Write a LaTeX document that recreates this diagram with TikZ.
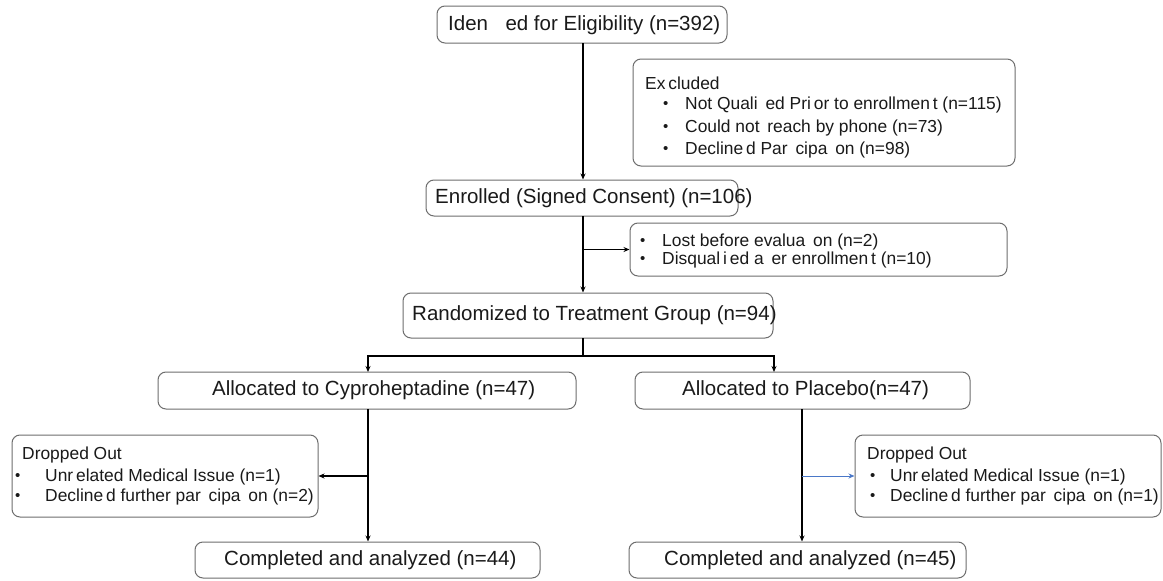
\documentclass[tikz,border=0pt]{standalone}
\usepackage{fontspec}
\setmainfont{Liberation Sans}
\usetikzlibrary{arrows.meta,fit}
\definecolor{boxgray}{HTML}{6E6E6E}
\definecolor{txtc}{HTML}{1A1A1A}
\definecolor{bluearr}{HTML}{4A78C8}
\newcommand{\gapti}{\hspace{0.45em}}
\begin{document}
\begin{tikzpicture}[x=1pt,y=-1pt,
  boxnode/.style={draw=boxgray, line width=1pt, rounded corners=8pt, inner sep=0pt},
  big/.style={font=\fontsize{20.5}{24}\selectfont, text=txtc, inner sep=0pt, anchor=west},
  small/.style={font=\fontsize{17.4}{21}\selectfont, text=txtc, inner sep=0pt, anchor=west},
  bul/.style={font=\fontsize{15}{18}\selectfont, text=txtc, inner sep=0pt, anchor=west},
  arr/.style={draw=black, line width=1.3pt, -{Stealth[length=6pt,width=5pt]}},
  plain/.style={draw=black, line width=1.3pt},
  barr/.style={draw=bluearr, line width=1pt, -{Stealth[length=6pt,width=5pt]}}]
\useasboundingbox[fill=white] (0,0) rectangle (1163,581);

% boxes
\node[boxnode, fit={(437,6) (727,43)}] (ident) {};
\node[boxnode, fit={(633,59) (1015,166)}] (excl) {};
\node[boxnode, fit={(426,180) (738,216)}] (enrol) {};
\node[boxnode, fit={(630,223) (1007,276)}] (lost) {};
\node[boxnode, fit={(403,293) (773,338)}] (rand) {};
\node[boxnode, fit={(158,372) (576,409)}] (cypro) {};
\node[boxnode, fit={(635,372) (970,409)}] (plac) {};
\node[boxnode, fit={(12,435) (318,517)}] (dropA) {};
\node[boxnode, fit={(855,435) (1161,517)}] (dropB) {};
\node[boxnode, fit={(195,542) (540,578)}] (compA) {};
\node[boxnode, fit={(629,542) (966,578)}] (compB) {};

% texts
\node[big] (tident) at (448,25) {Iden\hspace{0.85em}ed for Eligibility (n=392)};
\node[small] (texc) at (645,83) {Ex\,cluded};
\node[bul] (be1) at (663,105) {•};
\node[small] (te1) at (685,105) {Not Quali\gapti ed Pri\,or to enrollmen\,t (n=115)};
\node[bul] (be2) at (663,128) {•};
\node[small] (te2) at (685,128) {Could not\, reach by phone (n=73)};
\node[bul] (be3) at (663,150) {•};
\node[small] (te3) at (685,150) {Decline\,d Par\gapti cipa\gapti on (n=98)};
\node[big] (tenrol) at (435,198) {Enrolled (Signed Consent) (n=106)};
\node[bul] (bl1) at (640,242) {•};
\node[small] (tl1) at (662,242) {Lost before evalua\gapti on (n=2)};
\node[bul] (bl2) at (640,260) {•};
\node[small] (tl2) at (662,260) {Disqual\,i\,ed a\gapti er enrollmen\,t (n=10)};
\node[big] (trand) at (412,315) {Randomized to Treatment Group (n=94)};
\node[big] (tcypro) at (212,390) {Allocated to Cyproheptadine (n=47)};
\node[big] (tplac) at (682,390) {Allocated to Placebo(n=47)};
\node[small] (tdA) at (22,455) {Dropped Out};
\node[bul] (bdA1) at (15,477) {•};
\node[small] (dA1) at (45,477) {Unr\,elated Medical Issue (n=1)};
\node[bul] (bdA2) at (15,497) {•};
\node[small] (dA2) at (45,497) {Decline\,d further par\gapti cipa\gapti on (n=2)};
\node[small] (tdB) at (867,455) {Dropped Out};
\node[bul] (bdB1) at (870,477) {•};
\node[small] (dB1) at (890,477) {Unr\,elated Medical Issue (n=1)};
\node[bul] (bdB2) at (870,497) {•};
\node[small] (dB2) at (890,497) {Decline\,d further par\gapti cipa\gapti on (n=1)};
\node[big] (tcompA) at (224,560) {Completed and analyzed (n=44)};
\node[big] (tcompB) at (664,560) {Completed and analyzed (n=45)};

% connectors
\coordinate (topstem) at (583,43);
\draw[arr] (topstem) -- (topstem |- enrol.north);
\coordinate (enstem) at (583,216);
\draw[arr] (enstem) -- (enstem |- rand.north);
\draw[arr] (enstem |- lost.west) -- (lost.west);
\coordinate (rastem) at (583,338);
\coordinate (branch) at (583,356);
\draw[plain] (rastem) -- (branch);
\coordinate (cyin) at (368,372);
\coordinate (plin) at (774,372);
\draw[arr] (branch) -| (cyin);
\draw[arr] (branch) -| (plin);
\coordinate (cyout) at (368,409);
\draw[arr] (cyout) -- (cyout |- compA.north);
\draw[arr] (cyout |- dropA.east) -- (dropA.east);
\coordinate (plout) at (802,409);
\draw[arr] (plout) -- (plout |- compB.north);
\draw[barr] (plout |- dropB.west) -- (dropB.west);
\end{tikzpicture}
\end{document}
